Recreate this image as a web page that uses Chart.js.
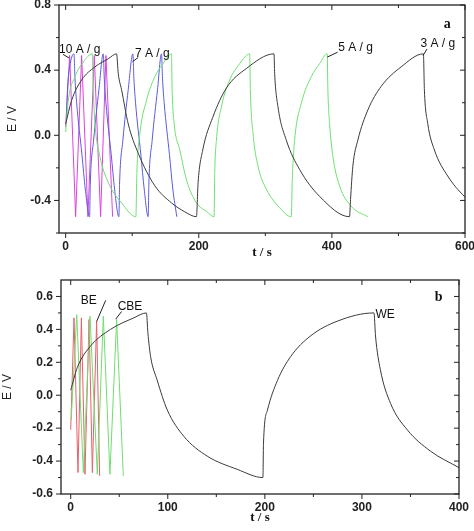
<!DOCTYPE html>
<html>
<head>
<meta charset="utf-8">
<script src="https://cdn.jsdelivr.net/npm/chart.js@4"></script>
<style>
  body { margin: 0; background: #fff; }
  canvas { display: block; }
</style>
</head>
<body>
<canvas id="chartA" width="474" height="265"></canvas>
<canvas id="chartB" width="474" height="266"></canvas>
<script>
// panel a - charge/discharge curves at 10, 7, 5 and 3 A/g
const t10 = [0, 6, 15, 24, 33.5, 43, 52.5, 60.5, 70.5];
const e10 = [0.05, 0.49, -0.5, 0.49, -0.5, 0.49, -0.5, 0.49, -0.5];

const t7 = [1, 3, 6, 12.5,
  14, 16.5, 24.5, 29.5, 36,
  37, 42, 50, 56.5,
  58, 60.5, 68.5, 73.5, 80,
  81, 86, 94, 101,
  102.5, 105, 113, 118, 124,
  125, 130, 138, 144,
  145.5, 148, 156, 161, 167];
const e7 = [0.1, 0.3, 0.42, 0.5,
  0.35, 0.2, -0.12, -0.33, -0.5,
  -0.3, -0.03, 0.28, 0.5,
  0.35, 0.2, -0.12, -0.33, -0.5,
  -0.3, -0.03, 0.28, 0.5,
  0.35, 0.2, -0.12, -0.33, -0.5,
  -0.3, -0.03, 0.28, 0.5,
  0.35, 0.2, -0.12, -0.33, -0.5];

const t5 = [0, 4, 14, 26.5, 40,
  41.5, 44, 51.5, 64, 84, 105.5,
  107, 111.5, 121.5, 134, 146.5, 159,
  160, 163, 171.5, 182, 196.5, 211.5, 223,
  224, 226.5, 234, 246.5, 261.5, 276.5,
  277.5, 281.5, 289, 301.5, 321.5, 339,
  340.5, 344, 354, 369, 381.5, 393,
  394, 396.5, 401.5, 411.5, 429, 454];
const e5 = [0.02, 0.215, 0.36, 0.45, 0.5,
  0.277, 0.073, -0.13, -0.29, -0.415, -0.5,
  -0.23, 0.01, 0.215, 0.36, 0.44, 0.5,
  0.277, 0.073, -0.09, -0.28, -0.415, -0.467, -0.5,
  -0.23, -0.03, 0.175, 0.34, 0.44, 0.5,
  0.277, 0.012, -0.19, -0.33, -0.445, -0.5,
  -0.27, -0.03, 0.195, 0.36, 0.44, 0.5,
  0.277, 0.073, -0.13, -0.31, -0.436, -0.5];

const t3 = [0, 9, 24, 44, 64, 76.5,
  79, 84, 94, 109, 134, 159, 179, 196.5,
  199, 206, 221, 241.5, 271.5, 313,
  314, 319, 331.5, 351.5, 381.5, 426.5,
  428, 431.5, 439, 454, 474, 504, 537.5,
  539, 544, 554, 574, 599, 602];
const e3 = [0.07, 0.215, 0.34, 0.42, 0.47, 0.5,
  0.38, 0.28, 0.07, -0.11, -0.31, -0.415, -0.47, -0.5,
  -0.29, -0.09, 0.11, 0.29, 0.41, 0.5,
  0.38, 0.175, -0.03, -0.21, -0.375, -0.5,
  -0.395, -0.19, -0.03, 0.155, 0.3, 0.42, 0.5,
  0.277, 0.073, -0.09, -0.25, -0.375, -0.385];

// panel b - BE, CBE and WE electrodes
const tBE = [0, 3.4, 7.5, 11, 14.7, 18.9, 22.3, 26.7, 29.8];
const eBE = [-0.21, 0.47, -0.47, 0.47, -0.48, 0.46, -0.47, 0.45, -0.49];

const tCBE = [0.5, 6.2, 13, 19.9, 27.4, 33.6, 40.4, 47.3, 54.2];
const eCBE = [-0.15, 0.49, -0.47, 0.48, -0.48, 0.48, -0.48, 0.46, -0.49];

const tWE = [0, 6.9, 20.6, 41, 65, 78,
  79.5, 82.3, 89, 99.5, 116.6, 140.6, 171.5, 198,
  198.6, 202.7, 213, 226.6, 247, 274.7, 312.4,
  314, 319, 329.5, 346.7, 370.7, 400];
const eWE = [0.03, 0.17, 0.3, 0.4, 0.47, 0.5,
  0.38, 0.235, 0.093, -0.09, -0.25, -0.37, -0.45, -0.5,
  -0.29, -0.09, 0.09, 0.235, 0.36, 0.45, 0.5,
  0.36, 0.155, -0.05, -0.21, -0.34, -0.44];

// tick positions (labelled ones listed separately)
const xTicksA = [0, 100, 200, 300, 400, 500, 600];
const xLabelsA = [0, 200, 400, 600];
const yTicksA = [-0.6, -0.4, -0.2, 0, 0.2, 0.4, 0.6, 0.8];
const yLabelsA = [-0.4, 0, 0.4, 0.8];

const xTicksB = [0, 50, 100, 150, 200, 250, 300, 350, 400];
const xLabelsB = [0, 100, 200, 300, 400];
const yTicksB = [-0.6, -0.5, -0.4, -0.3, -0.2, -0.1, 0, 0.1, 0.2, 0.3, 0.4, 0.5, 0.6];
const yLabelsB = [-0.6, -0.4, -0.2, 0, 0.2, 0.4, 0.6];

function pts(ts, es) {
  return ts.map((t, i) => ({ x: t, y: es[i] }));
}

// smooth = true for the curved traces, straight segments otherwise
function series(ts, es, color, smooth) {
  return {
    data: pts(ts, es),
    borderColor: color,
    borderWidth: 1,
    pointRadius: 0,
    tension: smooth ? 0.4 : 0,
    cubicInterpolationMode: smooth ? 'monotone' : 'default',
    fill: false
  };
}

function inList(v, list) {
  return list.some(u => Math.abs(u - v) < 1e-9);
}

// frame + ticks: outward on left/bottom, inward on top/right; then the notes
const frameTicks = {
  id: 'frameTicks',
  afterDatasetsDraw(chart) {
    const { ctx, chartArea: a } = chart;
    const x = chart.scales.x, y = chart.scales.y;
    ctx.save();
    ctx.strokeStyle = '#222';
    ctx.lineWidth = 1.3;
    ctx.strokeRect(a.left, a.top, a.right - a.left, a.bottom - a.top);
    ctx.lineWidth = 1;
    ctx.beginPath();
    x.ticks.forEach(tk => {
      const px = x.getPixelForValue(tk.value);
      const len = tk.label ? 5 : 3;
      ctx.moveTo(px, a.bottom); ctx.lineTo(px, a.bottom + len);
      ctx.moveTo(px, a.top); ctx.lineTo(px, a.top + len);
    });
    y.ticks.forEach(tk => {
      const py = y.getPixelForValue(tk.value);
      const len = tk.label ? 5 : 3;
      ctx.moveTo(a.left, py); ctx.lineTo(a.left - len, py);
      ctx.moveTo(a.right, py); ctx.lineTo(a.right - len, py);
    });
    ctx.stroke();

    const notes = chart.options.plugins.frameTicks;
    ctx.fillStyle = '#111';
    ctx.textBaseline = 'alphabetic';
    (notes.texts || []).forEach(n => {
      ctx.font = n.font;
      ctx.textAlign = 'left';
      ctx.fillText(n.text, x.getPixelForValue(n.x), y.getPixelForValue(n.y));
    });
    ctx.beginPath();
    (notes.leaders || []).forEach(l => {
      ctx.moveTo(x.getPixelForValue(l[0]), y.getPixelForValue(l[1]));
      ctx.lineTo(x.getPixelForValue(l[2]), y.getPixelForValue(l[3]));
    });
    ctx.stroke();
    ctx.restore();
  }
};

const tickFont = { family: 'Liberation Sans', size: 12, weight: 'bold' };

function makeChart(id, cfg) {
  return new Chart(document.getElementById(id), {
    type: 'line',
    data: { datasets: cfg.datasets },
    options: {
      responsive: false,
      animation: false,
      layout: { padding: cfg.padding },
      plugins: {
        legend: { display: false },
        tooltip: { enabled: false },
        frameTicks: cfg.notes
      },
      scales: {
        x: {
          type: 'linear',
          min: cfg.xMin, max: cfg.xMax,
          grid: { display: false, drawTicks: false },
          border: { display: false },
          afterBuildTicks: s => { s.ticks = cfg.xTicks.map(v => ({ value: v })); },
          ticks: {
            autoSkip: false,
            maxRotation: 0,
            padding: 6,
            color: '#222',
            font: tickFont,
            callback: v => inList(v, cfg.xLabels) ? String(Math.round(v)) : ''
          },
          title: {
            display: true, text: 't / s', color: '#111',
            font: { family: 'Liberation Serif', size: 13, weight: 'bold' },
            padding: { top: 0, bottom: cfg.xTitlePad }
          },
          afterFit: s => { s.height = cfg.xHeight; s.paddingLeft = 0; s.paddingRight = 0; }
        },
        y: {
          min: cfg.yMin, max: cfg.yMax,
          grid: { display: false, drawTicks: false },
          border: { display: false },
          afterBuildTicks: s => { s.ticks = cfg.yTicks.map(v => ({ value: v })); },
          ticks: {
            autoSkip: false,
            padding: 8,
            color: '#222',
            font: tickFont,
            callback: v => inList(v, cfg.yLabels) ? v.toFixed(1) : ''
          },
          title: {
            display: true, text: 'E / V', color: '#222',
            font: { family: 'Liberation Sans', size: 12 },
            padding: { top: cfg.yTitlePad, bottom: 0 }
          },
          afterFit: s => { s.width = cfg.yWidth; s.paddingTop = 0; s.paddingBottom = 0; }
        }
      }
    },
    plugins: [frameTicks]
  });
}

const noteFont = '12px "Liberation Sans"';
const tagFont = 'bold 14px "Liberation Serif"';

makeChart('chartA', {
  datasets: [
    series(t3, e3, '#3a3a3a', true),
    series(t5, e5, '#6ee06e', true),
    series(t7, e7, '#5a5ae0', true),
    series(t10, e10, '#e040e0', false)
  ],
  padding: { left: 0, right: 9, top: 5, bottom: 0 },
  xMin: -10, xMax: 600, xTicks: xTicksA, xLabels: xLabelsA,
  yMin: -0.6, yMax: 0.8, yTicks: yTicksA, yLabels: yLabelsA,
  xHeight: 32, yWidth: 59, xTitlePad: 5, yTitlePad: 5,
  notes: {
    texts: [
      { text: '10 A / g', x: -10, y: 0.505, font: noteFont },
      { text: '7 A / g', x: 104, y: 0.48, font: noteFont },
      { text: '5 A / g', x: 409.5, y: 0.52, font: noteFont },
      { text: '3 A / g', x: 533, y: 0.54, font: noteFont },
      { text: 'a', x: 568, y: 0.66, font: tagFont }
    ],
    leaders: [
      [-4, 0.497, 5, 0.475],
      [109, 0.478, 100.5, 0.452],
      [408.5, 0.51, 393, 0.48],
      [543, 0.53, 537, 0.49]
    ]
  }
});

makeChart('chartB', {
  datasets: [
    series(tWE, eWE, '#3a3a3a', true),
    series(tCBE, eCBE, '#70dd70', false),
    series(tBE, eBE, '#e8606a', false)
  ],
  padding: { left: 0, right: 15, top: 15, bottom: 0 },
  xMin: -10, xMax: 400, xTicks: xTicksB, xLabels: xLabelsB,
  yMin: -0.6, yMax: 0.7, yTicks: yTicksB, yLabels: yLabelsB,
  xHeight: 37, yWidth: 61, xTitlePad: 6, yTitlePad: 0,
  notes: {
    texts: [
      { text: 'BE', x: 10.3, y: 0.556, font: noteFont },
      { text: 'CBE', x: 48.4, y: 0.519, font: noteFont },
      { text: 'WE', x: 314, y: 0.47, font: noteFont },
      { text: 'b', x: 375, y: 0.57, font: tagFont }
    ],
    leaders: [
      [36, 0.576, 26.7, 0.448],
      [52.5, 0.509, 46.3, 0.462]
    ]
  }
});
</script>
</body>
</html>
